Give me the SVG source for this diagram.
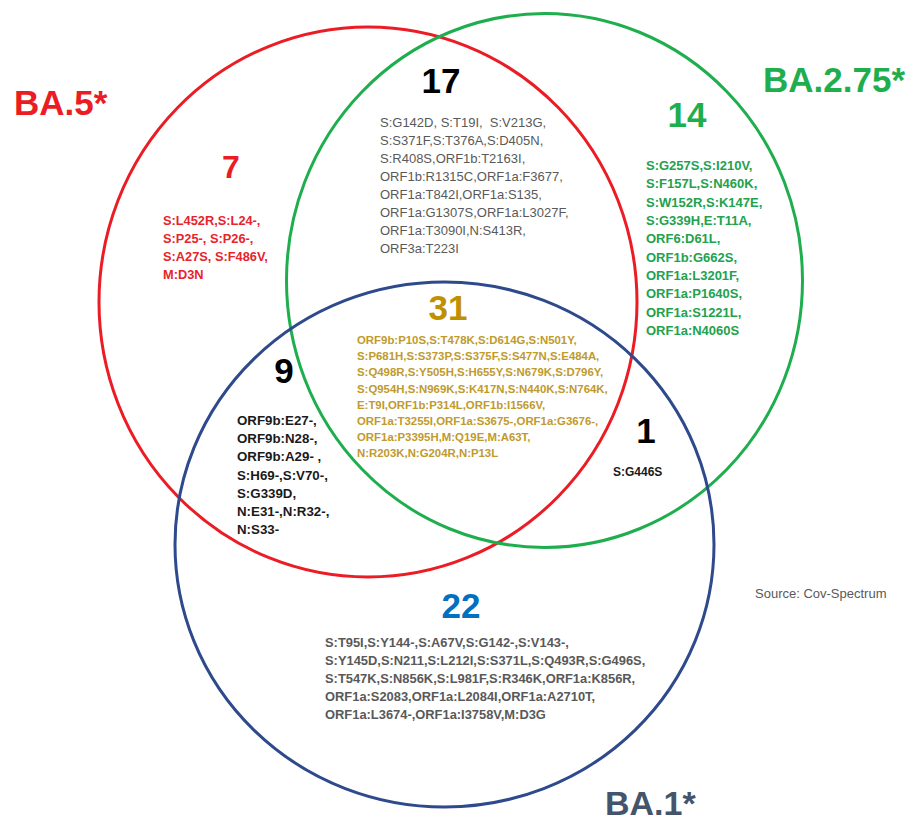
<svg xmlns="http://www.w3.org/2000/svg" width="916" height="823" viewBox="0 0 916 823">
<style>
.c{fill:none;stroke-width:3}
.t{font-family:"Liberation Sans",Arial,sans-serif}
.num{font-family:"Liberation Sans",Arial,sans-serif;font-weight:bold;text-anchor:middle}
.lbl{font-family:"Liberation Sans",Arial,sans-serif;font-weight:bold}
.b{font-weight:bold}
</style>
<rect width="916" height="823" fill="#ffffff"/>
<g id="sets">
<ellipse id="ba5" class="c" cx="368" cy="302" rx="269" ry="275" stroke="#ec1c24"/>
<ellipse id="ba275" class="c" cx="544.5" cy="280.5" rx="258" ry="267" stroke="#1fae4e"/>
<ellipse id="ba1" class="c" cx="444.5" cy="544.5" rx="269.5" ry="262.5" stroke="#2e4a8c"/>
</g>
<g id="labels">
<text class="lbl" x="14" y="115" font-size="35" fill="#ec1c24">BA.5*</text>
<text class="lbl" x="763" y="92" font-size="35" fill="#1fae4e">BA.2.75*</text>
<text class="lbl" x="605" y="815" font-size="34" fill="#44546a">BA.1*</text>
<text class="t" x="755" y="598" font-size="13" fill="#595959">Source: Cov-Spectrum</text>
</g>
<g id="region-ba5-only">
<text class="num" x="231" y="178" font-size="32" fill="#ec1c24">7</text>
<text class="t b" font-size="12.8" fill="#e8232b">
<tspan x="163" y="225">S:L452R,S:L24-,</tspan>
<tspan x="163" y="243">S:P25-, S:P26-,</tspan>
<tspan x="163" y="261">S:A27S, S:F486V,</tspan>
<tspan x="163" y="279">M:D3N</tspan>
</text>
</g>
<g id="region-ba5-ba275">
<text class="num" x="441" y="93" font-size="35" fill="#000000">17</text>
<text class="t" font-size="13" fill="#595959" xml:space="preserve"><tspan x="380" y="127">S:G142D, S:T19I,  S:V213G,</tspan><tspan x="380" y="145">S:S371F,S:T376A,S:D405N,</tspan><tspan x="380" y="163">S:R408S,ORF1b:T2163I,</tspan><tspan x="380" y="181">ORF1b:R1315C,ORF1a:F3677,</tspan><tspan x="380" y="199">ORF1a:T842I,ORF1a:S135,</tspan><tspan x="380" y="217">ORF1a:G1307S,ORF1a:L3027F,</tspan><tspan x="380" y="235">ORF1a:T3090I,N:S413R,</tspan><tspan x="380" y="253">ORF3a:T223I</tspan></text>
</g>
<g id="region-ba275-only">
<text class="num" x="687" y="127" font-size="35" fill="#1fae4e">14</text>
<text class="t b" font-size="13" fill="#22a24d">
<tspan x="646" y="170">S:G257S,S:I210V,</tspan>
<tspan x="646" y="188">S:F157L,S:N460K,</tspan>
<tspan x="646" y="207">S:W152R,S:K147E,</tspan>
<tspan x="646" y="225">S:G339H,E:T11A,</tspan>
<tspan x="646" y="243">ORF6:D61L,</tspan>
<tspan x="646" y="262">ORF1b:G662S,</tspan>
<tspan x="646" y="280">ORF1a:L3201F,</tspan>
<tspan x="646" y="298">ORF1a:P1640S,</tspan>
<tspan x="646" y="317">ORF1a:S1221L,</tspan>
<tspan x="646" y="335">ORF1a:N4060S</tspan>
</text>
</g>
<g id="region-all">
<text class="num" x="448" y="320" font-size="35" fill="#bf9000">31</text>
<text class="t b" font-size="11.4" fill="#c09a2c">
<tspan x="357" y="344">ORF9b:P10S,S:T478K,S:D614G,S:N501Y,</tspan>
<tspan x="357" y="360">S:P681H,S:S373P,S:S375F,S:S477N,S:E484A,</tspan>
<tspan x="357" y="376">S:Q498R,S:Y505H,S:H655Y,S:N679K,S:D796Y,</tspan>
<tspan x="357" y="393">S:Q954H,S:N969K,S:K417N,S:N440K,S:N764K,</tspan>
<tspan x="357" y="409">E:T9I,ORF1b:P314L,ORF1b:I1566V,</tspan>
<tspan x="357" y="425">ORF1a:T3255I,ORF1a:S3675-,ORF1a:G3676-,</tspan>
<tspan x="357" y="441">ORF1a:P3395H,M:Q19E,M:A63T,</tspan>
<tspan x="357" y="457">N:R203K,N:G204R,N:P13L</tspan>
</text>
</g>
<g id="region-ba5-ba1">
<text class="num" x="284" y="383" font-size="35" fill="#000000">9</text>
<text class="t b" font-size="13.3" fill="#1a1a1a">
<tspan x="237" y="425">ORF9b:E27-,</tspan>
<tspan x="237" y="443">ORF9b:N28-,</tspan>
<tspan x="237" y="461">ORF9b:A29- ,</tspan>
<tspan x="237" y="480">S:H69-,S:V70-,</tspan>
<tspan x="237" y="498">S:G339D,</tspan>
<tspan x="237" y="516">N:E31-,N:R32-,</tspan>
<tspan x="237" y="534">N:S33-</tspan>
</text>
</g>
<g id="region-ba275-ba1">
<text class="num" x="646" y="443" font-size="35" fill="#000000">1</text>
<text class="t b" x="613" y="476" font-size="12" fill="#1a1a1a">S:G446S</text>
</g>
<g id="region-ba1-only">
<text class="num" x="461" y="618" font-size="35" fill="#0070c0">22</text>
<text class="t b" font-size="12.9" fill="#595959">
<tspan x="325" y="647">S:T95I,S:Y144-,S:A67V,S:G142-,S:V143-,</tspan>
<tspan x="325" y="665">S:Y145D,S:N211,S:L212I,S:S371L,S:Q493R,S:G496S,</tspan>
<tspan x="325" y="683">S:T547K,S:N856K,S:L981F,S:R346K,ORF1a:K856R,</tspan>
<tspan x="325" y="701">ORF1a:S2083,ORF1a:L2084I,ORF1a:A2710T,</tspan>
<tspan x="325" y="719">ORF1a:L3674-,ORF1a:I3758V,M:D3G</tspan>
</text>
</g>
<g id="connectors"/>
</svg>
